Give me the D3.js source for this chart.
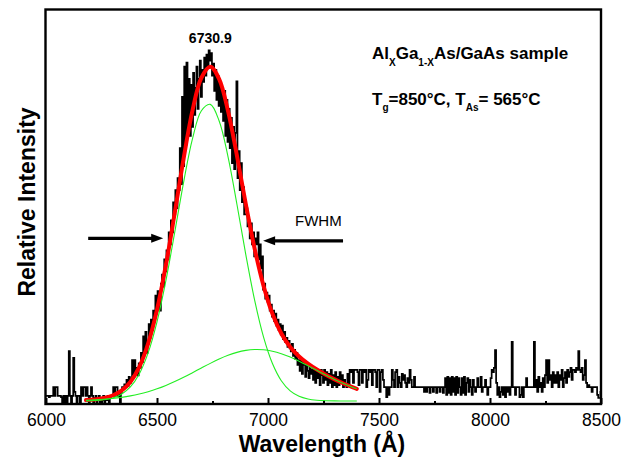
<!DOCTYPE html>
<html lang="en">

<head>
    <meta charset="UTF-8">
    <title>AlGaAs/GaAs PL spectrum</title>
    <style>
        body {
            margin: 0;
            background: #fff;
        }

        text {
            font-family: "Liberation Sans", Arial, sans-serif;
        }
    </style>
</head>

<body>

    <svg id="chart" width="635" height="457"></svg>

    <script src="https://d3js.org/d3.v7.min.js"></script>

    <script>

        // measured spectrum, one value every 5 A from 6000 to 8500

        var wlStart = 6000,
            wlStep = 5;

        var spectrum = [
            17, 17, 17, 13, 17, 17, 17, 46, 17, 46, 46, 17, 17, 17, 13, -7, 17, -7, 17, -7,
            17, 166, 17, -7, 17, 143, 30, 17, -7, 17, 17, -7, 46, 17, 46, 46, 17, 46, 17, -7,
            17, 46, 17, -7, 10, 17, -7, 10, 17, -7, 10, 3, 17, -7, 10, 3, 17, -7, 10, 17,
            17, 46, 17, 46, 46, 17, 20, -7, 30, 46, 40, 55, 46, 70, 50, 80, 60, 75, 136, 90,
            136, 95, 110, 85, 125, 110, 160, 130, 215, 170, 230, 160, 190, 255, 210, 270, 235, 300, 280, 350,
            300, 365, 320, 300, 390, 420, 380, 470, 430, 500, 470, 560, 520, 600, 560, 660, 620, 700, 640, 740,
            700, 840, 720, 1010, 780, 1110, 850, 1124, 900, 1070, 880, 1050, 910, 1090, 950, 1040, 1110, 970, 1070, 1130,
            1010, 1100, 1060, 1140, 1080, 1150, 1110, 1164, 1130, 1155, 1080, 1120, 1030, 1100, 1000, 1080, 980, 1050, 960, 1040,
            930, 1030, 880, 1000, 860, 970, 840, 940, 790, 910, 770, 890, 1061, 740, 830, 700, 790, 660, 710, 620,
            620, 640, 580, 600, 540, 590, 520, 560, 480, 540, 520, 560, 470, 520, 440, 480, 370, 390, 340, 360,
            330, 350, 300, 320, 280, 300, 265, 290, 250, 270, 235, 255, 220, 250, 205, 230, 195, 210, 180, 200,
            175, 165, 190, 150, 170, 140, 160, 120, 136, 100, 136, 90, 136, 120, 80, 125, 100, 76, 115, 90,
            103, 70, 110, 60, 103, 76, 96, 53, 103, 86, 60, 103, 70, 96, 53, 90, 60, 103, 46, 86,
            53, 96, 46, 80, 53, 96, 60, 86, 46, 70, 53, 46, 90, 53, 103, 96, 103, 60, 103, 103,
            103, 96, 53, 103, 103, 60, 103, 96, 103, 46, 70, 103, 96, 103, 53, 103, 103, 96, 46, 103,
            103, 30, 96, 103, 70, 46, 46, 13, 46, 20, 46, 46, 103, 70, 46, 96, 103, 46, 80, 60,
            46, 90, 70, 86, 60, 46, 76, 60, 103, 70, 46, 46, 80, 46, 46, 46, 46, 46, 46, 46,
            46, 30, 46, 30, 46, 46, 27, 46, 46, 30, 46, 46, 27, 46, 46, 30, 46, 46, 27, 46,
            76, 20, 80, 27, 76, 20, 80, 30, 76, 20, 80, 27, 76, 46, 20, 76, 27, 80, 20, 60,
            76, 30, 70, 46, 20, 70, 46, 30, 46, 76, 46, 46, 80, 30, 46, 46, 70, 46, 20, 46,
            46, 76, 103, 96, 110, 169, 60, 20, 46, 13, 30, 46, 20, 46, 13, 46, 30, 46, 20, 46,
            196, 46, 46, 20, 46, 46, 46, 13, 20, 46, 13, 46, 46, 76, 46, 46, 46, 46, 46, 46,
            196, 46, 70, 30, 80, 46, 60, 30, 76, 46, 86, 136, 60, 136, 70, 86, 46, 96, 60, 86,
            60, 96, 46, 86, 70, 103, 46, 76, 96, 60, 103, 80, 96, 110, 70, 103, 103, 96, 110, 103,
            166, 103, 96, 110, 70, 86, 136, 60, 46, 53, 46, 46, 30, 46, 46, 46, 46, 20, 10, 10, 30
        ];

        // fitted curves read at the sample wavelengths

        var fitWl = [6180, 6220, 6260, 6300, 6340, 6380, 6420, 6460, 6500, 6540, 6580, 6620, 6660, 6700, 6740, 6780,
            6820, 6860, 6900, 6940, 6980, 7020, 7060, 7100, 7140, 7180, 7220, 7260, 7300, 7340, 7380, 7400];

        var peak1 = [0.5, 1.5, 4.0, 9.9, 22.3, 46.5, 89.7, 159.7, 262.8, 399.4, 560.7, 727.1, 871.0, 963.8, 985.0, 929.9,
            811.0, 653.3, 486.1, 334.1, 212.1, 124.5, 67.4, 33.7, 15.6, 6.7, 2.6, 1.0, 0.3, 0.1, 0.0, 0.0];

        var peak2 = [2.5, 3.8, 5.8, 8.4, 12.1, 16.9, 23.1, 31.0, 40.4, 51.7, 64.5, 78.7, 94.0, 109.6, 124.9, 139.2,
            151.6, 161.4, 168.0, 170.9, 169.9, 165.1, 156.9, 145.7, 132.2, 117.3, 101.8, 86.3, 71.5, 57.9, 45.8, 40.4];

        var fitSum = [3.0, 5.3, 9.8, 18.3, 34.4, 63.4, 112.8, 190.7, 303.2, 451.1, 625.2, 805.8, 965.0, 1073.4, 1109.9, 1069.1,
            962.6, 814.7, 654.1, 505.0, 382.0, 289.6, 224.3, 179.4, 147.8, 124.0, 104.4, 87.3, 71.8, 58.0, 45.8, 40.4];

        // axis ticks

        var xTicks = [6000, 6500, 7000, 7500, 8000, 8500];
        var xMinorTicks = [6250, 6750, 7250, 7750, 8250];

        // FWHM arrows: [from, to, level]

        var fwhmLeft = [6190, 6528, 540];
        var fwhmRight = [7338, 6978, 532];

        var peakCenter = 6730.9;

        var svg = d3.select("#chart");

        var x = d3.scaleLinear().domain([6000, 8500]).range([46, 601]);
        var y = d3.scaleLinear().domain([-10, 1300]).range([404, 9.5]);

        svg.append("defs").append("clipPath").attr("id", "plotclip")
            .append("rect").attr("x", 46).attr("y", 9.5).attr("width", 555).attr("height", 394.5);

        var plot = svg.append("g").attr("clip-path", "url(#plotclip)");

        // measured data

        var dataLine = d3.line()
            .x(function(d, i) { return x(wlStart + i * wlStep); })
            .y(function(d) { return y(d); })
            .curve(d3.curveStep);

        plot.append("path")
            .datum(spectrum)
            .attr("d", dataLine)
            .attr("fill", "none")
            .attr("stroke", "#000")
            .attr("stroke-width", 1.7)
            .attr("stroke-linejoin", "miter");

        // fit curves

        var fitLine = d3.line()
            .x(function(d, i) { return x(fitWl[i]); })
            .y(function(d) { return y(d); })
            .curve(d3.curveCatmullRom.alpha(0.5));

        plot.append("path")
            .datum(fitSum)
            .attr("d", fitLine)
            .attr("fill", "none")
            .attr("stroke", "#ff0000")
            .attr("stroke-width", 4)
            .attr("stroke-linecap", "round");

        [peak1, peak2].forEach(function(p) {
            plot.append("path")
                .datum(p)
                .attr("d", fitLine)
                .attr("fill", "none")
                .attr("stroke", "#22ee22")
                .attr("stroke-width", 1.1);
        });

        // frame

        svg.append("rect")
            .attr("x", 45.5).attr("y", 9.5)
            .attr("width", 555.5).attr("height", 394.5)
            .attr("fill", "none")
            .attr("stroke", "#000")
            .attr("stroke-width", 2.4);

        // bottom axis, ticks pointing inwards

        var axisMajor = d3.axisBottom(x)
            .tickValues(xTicks)
            .tickSize(-6)
            .tickPadding(10)
            .tickFormat(d3.format("d"));

        var gx = svg.append("g").attr("transform", "translate(0,404)").call(axisMajor);
        gx.select(".domain").remove();
        gx.selectAll("line").attr("stroke-width", 2);
        gx.selectAll("text")
            .attr("font-size", 17.5)
            .attr("font-family", "Liberation Sans, Arial, sans-serif")
            .attr("fill", "#000");

        var axisMinor = d3.axisBottom(x)
            .tickValues(xMinorTicks)
            .tickSize(-3)
            .tickFormat("");

        var gm = svg.append("g").attr("transform", "translate(0,404)").call(axisMinor);
        gm.select(".domain").remove();
        gm.selectAll("line").attr("stroke-width", 2);

        // axis titles

        svg.append("text")
            .attr("x", 322).attr("y", 452)
            .attr("text-anchor", "middle")
            .attr("font-size", 23).attr("font-weight", "bold")
            .text("Wavelength (\u00c5)");

        svg.append("text")
            .attr("transform", "translate(35,202) rotate(-90)")
            .attr("text-anchor", "middle")
            .attr("font-size", 23).attr("font-weight", "bold")
            .text("Relative Intensity");

        // peak label

        svg.append("text")
            .attr("x", x(peakCenter) + 2).attr("y", 43)
            .attr("text-anchor", "middle")
            .attr("font-size", 14).attr("font-weight", "bold")
            .text("6730.9");

        // sample info

        var t1 = svg.append("text")
            .attr("x", 372).attr("y", 59)
            .attr("font-size", 17).attr("font-weight", "bold");
        t1.append("tspan").text("Al");
        t1.append("tspan").attr("dy", 7).attr("font-size", 10).text("X");
        t1.append("tspan").attr("dy", -7).text("Ga");
        t1.append("tspan").attr("dy", 7).attr("font-size", 10).text("1-X");
        t1.append("tspan").attr("dy", -7).text("As/GaAs sample");

        var t2 = svg.append("text")
            .attr("x", 372).attr("y", 105)
            .attr("font-size", 17).attr("font-weight", "bold");
        t2.append("tspan").text("T");
        t2.append("tspan").attr("dy", 6).attr("font-size", 10).text("g");
        t2.append("tspan").attr("dy", -6).text("=850\u00b0C, T");
        t2.append("tspan").attr("dy", 6).attr("font-size", 10).text("As");
        t2.append("tspan").attr("dy", -6).text("= 565\u00b0C");

        // FWHM arrows

        function drawArrow(a) {
            var x0 = x(a[0]), x1 = x(a[1]), yy = y(a[2]);
            var dir = x1 > x0 ? 1 : -1;
            svg.append("line")
                .attr("x1", x0).attr("y1", yy)
                .attr("x2", x1 - dir * 9).attr("y2", yy)
                .attr("stroke", "#000")
                .attr("stroke-width", 3.2);
            svg.append("path")
                .attr("d", "M" + x1 + "," + yy + "L" + (x1 - dir * 12) + "," + (yy - 4.5) +
                    "L" + (x1 - dir * 12) + "," + (yy + 4.5) + "Z")
                .attr("fill", "#000");
        }

        drawArrow(fwhmLeft);
        drawArrow(fwhmRight);

        svg.append("text")
            .attr("x", 295).attr("y", 226)
            .attr("font-size", 15)
            .text("FWHM");

    </script>

</body>

</html>
